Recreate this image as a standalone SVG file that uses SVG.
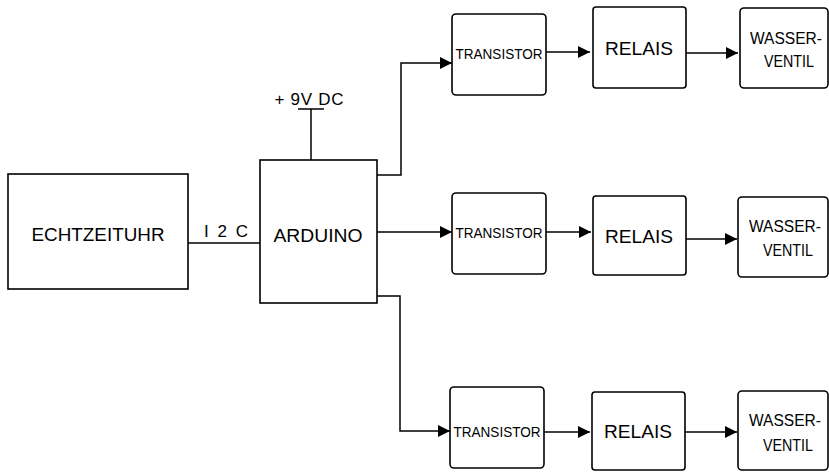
<svg xmlns="http://www.w3.org/2000/svg" width="829" height="472" viewBox="0 0 829 472">
<defs>
<marker id="ah" viewBox="0 0 12 12" refX="12" refY="6" markerWidth="12" markerHeight="12" markerUnits="userSpaceOnUse" orient="auto">
<path d="M0,0 L12,6 L0,12 Z" fill="#000"/>
</marker>
<style>
.box{fill:#fff;stroke:#000;stroke-width:1.6}
.ln{fill:none;stroke:#000;stroke-width:1.5}
.t{font-family:"Liberation Sans",Arial,sans-serif;fill:#000;text-anchor:middle}
.big{font-size:18px}
.tr{font-size:15px}
.wv{font-size:16px}
.lb{font-size:17px}
</style>
</defs>
<rect width="829" height="472" fill="#fff"/>
<g id="connectors">
<path class="ln" d="M188,243 H260"/>
<path class="ln" d="M298,109 H324 M311,109 V160"/>
<path class="ln" d="M373,175 H401 V63 H452" marker-end="url(#ah)"/>
<path class="ln" d="M377,232 H452" marker-end="url(#ah)"/>
<path class="ln" d="M377,296 H400 V431 H450" marker-end="url(#ah)"/>
<path class="ln" d="M546,52 H590" marker-end="url(#ah)"/>
<path class="ln" d="M686,53 H738" marker-end="url(#ah)"/>
<path class="ln" d="M546,232 H591" marker-end="url(#ah)"/>
<path class="ln" d="M686,239 H737" marker-end="url(#ah)"/>
<path class="ln" d="M544,432 H590" marker-end="url(#ah)"/>
<path class="ln" d="M685,432 H737" marker-end="url(#ah)"/>
</g>
<g id="labels">
<text class="t lb" x="226" y="237" textLength="44">I2C</text>
<text class="t lb" x="309" y="105" textLength="69">+ 9V DC</text>
</g>
<g id="echtzeituhr">
<rect class="box" x="8" y="174" width="180" height="115"/>
<text class="t big" x="98" y="241" textLength="133" lengthAdjust="spacingAndGlyphs">ECHTZEITUHR</text>
</g>
<g id="arduino">
<rect class="box" x="260" y="160" width="117" height="143"/>
<text class="t big" x="318" y="242" textLength="89" lengthAdjust="spacingAndGlyphs">ARDUINO</text>
</g>
<g id="transistor1">
<rect class="box" x="452" y="14" width="94" height="81" rx="4"/>
<text class="t tr" x="499" y="59" textLength="87" lengthAdjust="spacingAndGlyphs">TRANSISTOR</text>
</g>
<g id="relais1">
<rect class="box" x="593" y="7" width="93" height="81" rx="3"/>
<text class="t big" x="639" y="55" textLength="68" lengthAdjust="spacingAndGlyphs">RELAIS</text>
</g>
<g id="ventil1">
<rect class="box" x="740" y="8" width="88" height="80" rx="4"/>
<text class="t wv" x="786" y="44" textLength="72" lengthAdjust="spacingAndGlyphs">WASSER-</text>
<text class="t wv" x="789" y="67" textLength="50" lengthAdjust="spacingAndGlyphs">VENTIL</text>
</g>
<g id="transistor2">
<rect class="box" x="452" y="193" width="94" height="81" rx="4"/>
<text class="t tr" x="499" y="238" textLength="87" lengthAdjust="spacingAndGlyphs">TRANSISTOR</text>
</g>
<g id="relais2">
<rect class="box" x="593" y="196" width="93" height="79" rx="3"/>
<text class="t big" x="639" y="243" textLength="68" lengthAdjust="spacingAndGlyphs">RELAIS</text>
</g>
<g id="ventil2">
<rect class="box" x="738" y="197" width="90" height="80" rx="4"/>
<text class="t wv" x="785" y="232" textLength="72" lengthAdjust="spacingAndGlyphs">WASSER-</text>
<text class="t wv" x="788" y="256" textLength="50" lengthAdjust="spacingAndGlyphs">VENTIL</text>
</g>
<g id="transistor3">
<rect class="box" x="450" y="387" width="94" height="81" rx="4"/>
<text class="t tr" x="497" y="437" textLength="87" lengthAdjust="spacingAndGlyphs">TRANSISTOR</text>
</g>
<g id="relais3">
<rect class="box" x="592" y="392" width="93" height="78" rx="3"/>
<text class="t big" x="638" y="438" textLength="68" lengthAdjust="spacingAndGlyphs">RELAIS</text>
</g>
<g id="ventil3">
<rect class="box" x="738" y="391" width="90" height="79" rx="4"/>
<text class="t wv" x="785" y="426" textLength="72" lengthAdjust="spacingAndGlyphs">WASSER-</text>
<text class="t wv" x="788" y="451" textLength="50" lengthAdjust="spacingAndGlyphs">VENTIL</text>
</g>
</svg>
